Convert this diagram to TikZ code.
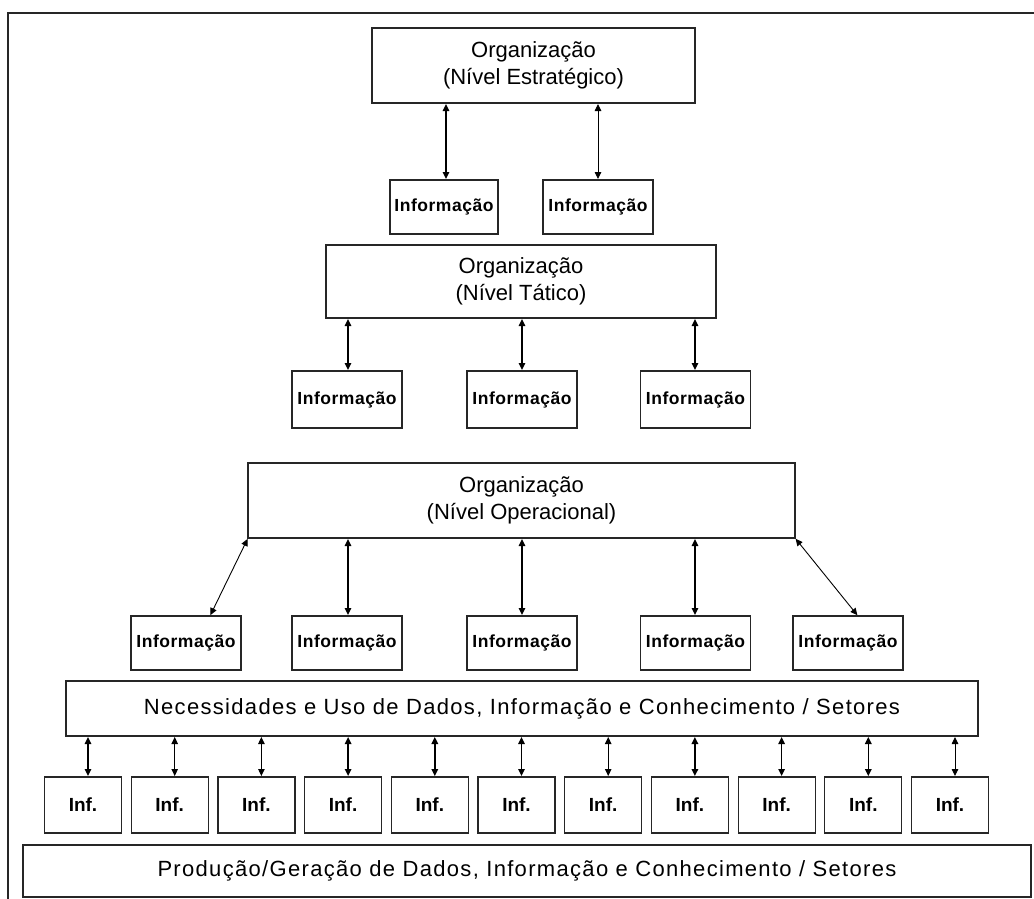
\documentclass[tikz,border=0pt]{standalone}
\usepackage{fontspec}
\setmainfont{Liberation Sans}
\usetikzlibrary{arrows.meta}
\newfontfamily\boxbold[LetterSpace=3]{Liberation Sans Bold}
\newfontfamily\widefont[LetterSpace=6]{Liberation Sans}
\begin{document}
\begin{tikzpicture}[x=1pt,y=-1pt,
  box/.style={draw=black!85,line width=1.2pt,fill=white,inner sep=0pt,outer sep=0pt,align=center},
  titlebox/.style={box,font=\fontsize{22}{27}\selectfont},
  infobox/.style={box,minimum width=110,font=\boxbold\fontsize{17.5}{20}\selectfont},
  infsmall/.style={box,minimum width=77,minimum height=56,font=\bfseries\fontsize{19}{22}\selectfont},
  link/.style={line width=1.5pt,{Triangle[length=7pt,width=6.5pt]}-{Triangle[length=7pt,width=6.5pt]},shorten <=1pt,shorten >=1pt},
  thinlink/.style={link,line width=0.9pt}]
\useasboundingbox (0,0) rectangle (1034,899);
\fill[white] (0,0) rectangle (1034,899);
% outer frame (open to the right and bottom)
\draw[line width=1.8pt,black!85] (1040,13) -- (8,13) -- (8,905);

% strategic level
\node[titlebox,minimum width=323,minimum height=75] (est) at (533.5,65.5) {Organização\\(Nível Estratégico)};
\node[infobox,minimum width=108,minimum height=54] (e1) at (444,207) {Informação};
\node[infobox,minimum height=54] (e2) at (598,207) {Informação};
\draw[link] (est.south -| 446,0) -- (e1.north -| 446,0);
\draw[thinlink] (est.south -| e2.north) -- (e2.north);

% tactical level
\node[titlebox,minimum width=390,minimum height=73] (tat) at (521,281.5) {Organização\\(Nível Tático)};
\node[infobox,minimum height=57] (t1) at (347,399.5) {Informação};
\node[infobox,minimum height=57] (t2) at (522,399.5) {Informação};
\node[infobox,minimum height=57] (t3) at (695.5,399.5) {Informação};
\draw[link] (tat.south -| 348,0) -- (t1.north -| 348,0);
\draw[link] (tat.south -| 522,0) -- (t2.north -| 522,0);
\draw[link] (tat.south -| 695,0) -- (t3.north -| 695,0);

% operational level
\node[titlebox,minimum width=547,minimum height=75] (ope) at (521.5,500.5) {Organização\\(Nível Operacional)};
\node[infobox,minimum height=54] (o1) at (186,643) {Informação};
\node[infobox,minimum height=54] (o2) at (347,643) {Informação};
\node[infobox,minimum height=54] (o3) at (522,643) {Informação};
\node[infobox,minimum height=54] (o4) at (695.5,643) {Informação};
\node[infobox,minimum height=54] (o5) at (848,643) {Informação};
\coordinate (o1t) at ([xshift=24]o1.north);
\coordinate (o5t) at ([xshift=10]o5.north);
\draw[thinlink] (ope.south west) -- (o1t);
\draw[link] (ope.south -| 348,0) -- (o2.north -| 348,0);
\draw[link] (ope.south -| 522,0) -- (o3.north -| 522,0);
\draw[link] (ope.south -| 695,0) -- (o4.north -| 695,0);
\draw[thinlink] (ope.south east) -- (o5t);

% needs and use by sector
\node[box,minimum width=912,minimum height=55,font=\widefont\fontsize{22}{26}\selectfont] (nec) at (522,708.5) {Necessidades e Uso de Dados, Informação e Conhecimento / Setores};

\foreach \i/\cx/\w in {1/83/link,2/169.7/thinlink,3/256.4/thinlink,4/343.1/link,5/429.8/link,6/516.5/link,7/603.2/thinlink,8/689.9/link,9/776.6/link,10/863.3/link,11/950/thinlink}{
  \node[infsmall] (inf\i) at (\cx,805) {Inf.};
  \coordinate (a\i) at ([xshift=5]inf\i.north);
  \draw[\w] (nec.south -| a\i) -- (a\i);
}

% production by sector
\node[box,minimum width=1008,minimum height=52,font=\widefont\fontsize{22}{26}\selectfont] (pro) at (527,871) {Produção/Geração de Dados, Informação e Conhecimento / Setores};
\end{tikzpicture}
\end{document}
